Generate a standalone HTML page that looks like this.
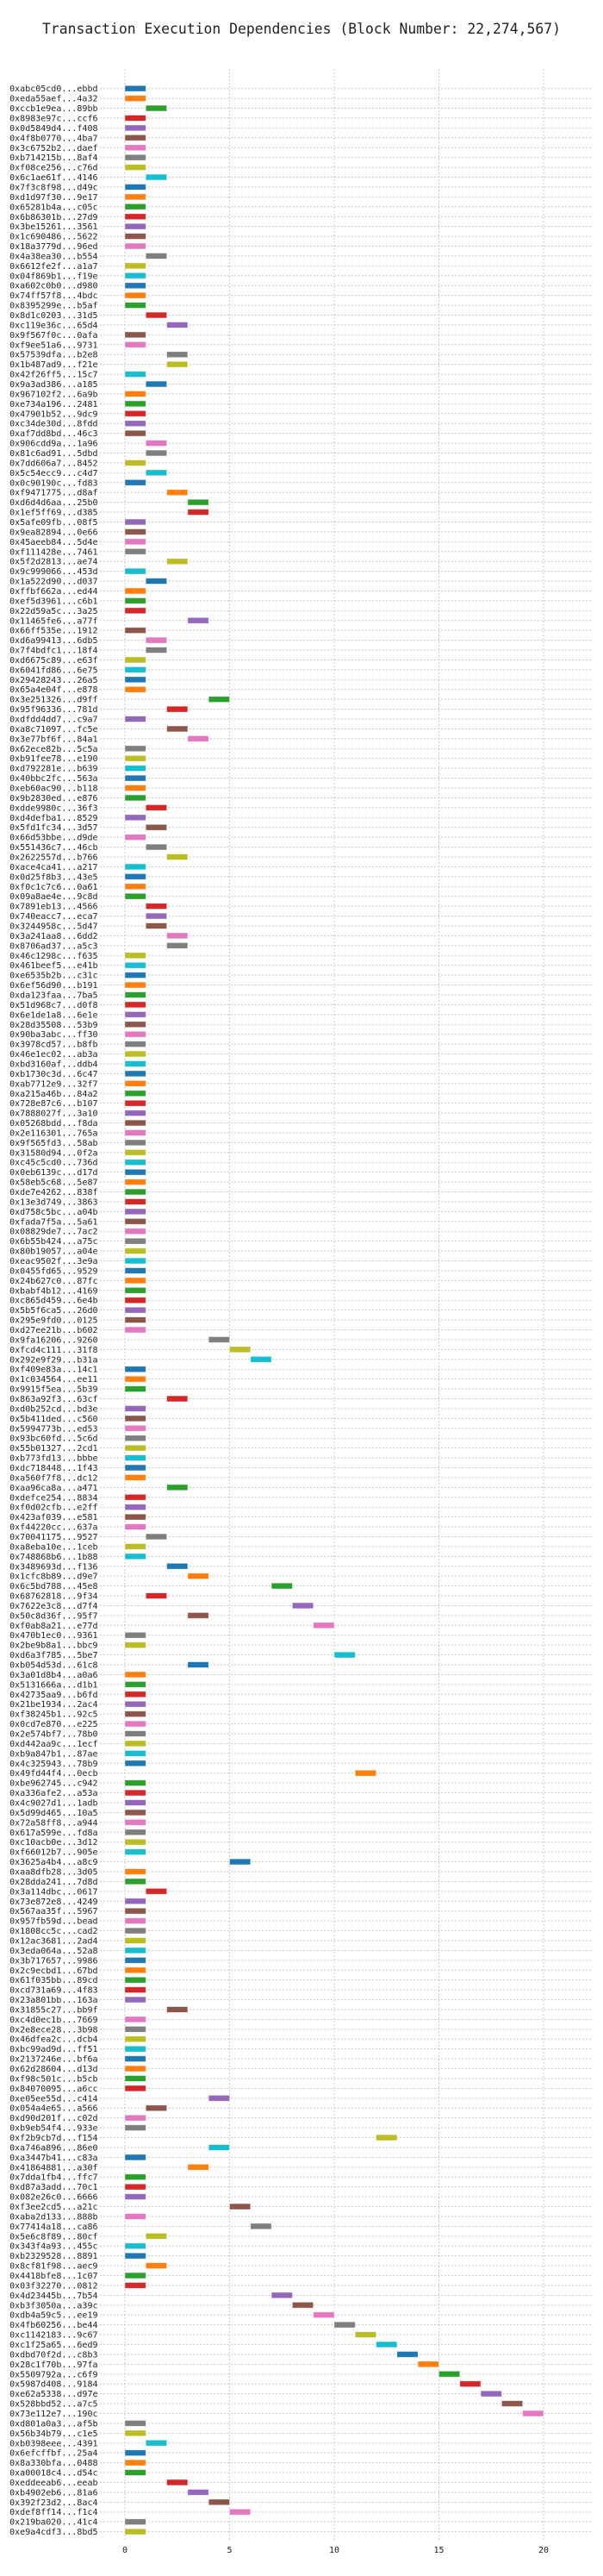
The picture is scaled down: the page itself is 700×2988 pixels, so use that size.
<!DOCTYPE html>
<html><head><meta charset="utf-8">
<style>
html,body{margin:0;padding:0;background:#fff;}
svg{display:block;}
text{font-family:"DejaVu Sans Mono","Liberation Mono",monospace;fill:#222;}
</style></head>
<body>
<svg id="chart" width="700" height="2988" viewBox="0 0 700 2988" xmlns="http://www.w3.org/2000/svg">
<text x="350" y="39" text-anchor="middle" font-size="16.4">Transaction Execution Dependencies (Block Number: 22,274,567)</text>
<g id="grid"></g><g id="bars"></g><g id="labels"></g><g id="xticks"></g>
</svg>
<script>
const txLabels = ["0xabc05cd0...ebbd","0xeda55aef...4a32","0xccb1e9ea...89bb","0x8983e97c...ccf6","0x0d5849d4...f408","0x4f8b0770...4ba7","0x3c6752b2...daef","0xb714215b...8af4","0xf08ce256...c76d","0x6c1ae61f...4146","0x7f3c8f98...d49c","0xd1d97f30...9e17","0x65281b4a...c05c","0x6b86301b...27d9","0x3be15261...3561","0x1c690486...5622","0x18a3779d...96ed","0x4a38ea30...b554","0x6612fe2f...a1a7","0x04f869b1...f19e","0xa602c0b0...d980","0x74ff57f8...4bdc","0x8395299e...b5af","0x8d1c0203...31d5","0xc119e36c...65d4","0x9f567f0c...0afa","0xf9ee51a6...9731","0x57539dfa...b2e8","0x1b487ad9...f21e","0x42f26ff5...15c7","0x9a3ad386...a185","0x967102f2...6a9b","0xe734a196...2481","0x47901b52...9dc9","0xc34de30d...8fdd","0xaf7dd8bd...46c3","0x906cdd9a...1a96","0x81c6ad91...5dbd","0x7dd606a7...8452","0x5c54ecc9...c4d7","0x0c90190c...fd83","0xf9471775...d8af","0xd6d4d6aa...25b0","0x1ef5ff69...d385","0x5afe09fb...08f5","0x9ea82894...0e66","0x45aeeb84...5d4e","0xf111428e...7461","0x5f2d2813...ae74","0x9c999066...453d","0x1a522d90...d037","0xffbf662a...ed44","0xef5d3961...c6b1","0x22d59a5c...3a25","0x11465fe6...a77f","0x66ff535e...1912","0xd6a99413...6db5","0x7f4bdfc1...18f4","0xd6675c89...e63f","0x6041fd86...6e75","0x29428243...26a5","0x65a4e04f...e878","0x3e251326...d9ff","0x95f96336...781d","0xdfdd4dd7...c9a7","0xa8c71097...fc5e","0x3e77bf6f...84a1","0x62ece82b...5c5a","0xb91fee78...e190","0xd792281e...b639","0x40bbc2fc...563a","0xeb60ac90...b118","0x9b2830ed...e876","0xdde9980c...36f3","0xd4defba1...8529","0x5fd1fc34...3d57","0x66d53bbe...d9de","0x551436c7...46cb","0x2622557d...b766","0xace4ca41...a217","0x0d25f8b3...43e5","0xf0c1c7c6...0a61","0x09a8ae4e...9c8d","0x7891eb13...4566","0x740eacc7...eca7","0x3244958c...5d47","0x3a241aa8...6dd2","0x8706ad37...a5c3","0x46c1298c...f635","0x461beef5...e41b","0xe6535b2b...c31c","0x6ef56d90...b191","0xda123faa...7ba5","0x51d968c7...d0f8","0x6e1de1a8...6e1e","0x28d35508...53b9","0x90ba3abc...ff30","0x3978cd57...b8fb","0x46e1ec02...ab3a","0xbd3160af...ddb4","0xb1730c3d...6c47","0xab7712e9...32f7","0xa215a46b...84a2","0x728e87c6...b107","0x7888027f...3a10","0x05268bdd...f8da","0x2e116301...765a","0x9f565fd3...58ab","0x31580d94...0f2a","0xc45c5cd0...736d","0x0eb6139c...d17d","0x58eb5c68...5e87","0xde7e4262...838f","0x13e3d749...3863","0xd758c5bc...a04b","0xfada7f5a...5a61","0x08829de7...7ac2","0x6b55b424...a75c","0x80b19057...a04e","0xeac9502f...3e9a","0x0455fd65...9529","0x24b627c0...87fc","0xbabf4b12...4169","0xc865d459...6e4b","0x5b5f6ca5...26d0","0x295e9fd0...0125","0xd27ee21b...b602","0x9fa16206...9260","0xfcd4c111...31f8","0x292e9f29...b31a","0xf409e83a...14c1","0x1c034564...ee11","0x9915f5ea...5b39","0x863a92f3...63cf","0xd0b252cd...bd3e","0x5b411ded...c560","0x5994773b...ed53","0x93bc60fd...5c6d","0x55b01327...2cd1","0xb773fd13...bbbe","0xdc718448...1f43","0xa560f7f8...dc12","0xaa96ca8a...a471","0xdefce254...8834","0xf0d02cfb...e2ff","0x423af039...e581","0xf44220cc...637a","0x70041175...9527","0xa8eba10e...1ceb","0x748868b6...1b88","0x3489693d...f136","0x1cfc8b89...d9e7","0x6c5bd788...45e8","0x68762818...9f34","0x7622e3c8...d7f4","0x50c8d36f...95f7","0xf0ab8a21...e77d","0x470b1ec0...9361","0x2be9b8a1...bbc9","0xd6a3f785...5be7","0xb054d53d...61c8","0x3a01d8b4...a0a6","0x5131666a...d1b1","0x42735aa9...b6fd","0x21be1934...2ac4","0xf38245b1...92c5","0x0cd7e870...e225","0x2e574bf7...78b0","0xd442aa9c...1ecf","0xb9a847b1...87ae","0x4c325943...78b9","0x49fd44f4...0ecb","0xbe962745...c942","0xa336afe2...a53a","0x4c9027d1...1adb","0x5d99d465...10a5","0x72a58ff8...a944","0x617a599e...fd8a","0xc10acb0e...3d12","0xf66012b7...905e","0x3625a4b4...a8c9","0xaa8dfb28...3d05","0x28dda241...7d8d","0x3a114dbc...0617","0x73e872e8...4249","0x567aa35f...5967","0x957fb59d...bead","0x1808cc5c...cad2","0x12ac3681...2ad4","0x3eda064a...52a8","0x3b717657...9986","0x2c9ecbd1...67bd","0x61f035bb...89cd","0xcd731a69...4f83","0x23a801bb...163a","0x31855c27...bb9f","0xc4d0ec1b...7669","0x2e8ece28...3b98","0x46dfea2c...dcb4","0xbc99ad9d...ff51","0x2137246e...bf6a","0x62d28604...d13d","0xf98c501c...b5cb","0x84070095...a6cc","0xe05ee55d...c414","0x054a4e65...a566","0xd90d201f...c02d","0xb9eb54f4...933e","0xf2b9cb7d...f154","0xa746a896...86e0","0xa3447b41...c83a","0x41864881...a30f","0x7dda1fb4...ffc7","0xd87a3add...70c1","0x082e26c0...6666","0xf3ee2cd5...a21c","0xaba2d133...888b","0x77414a18...ca86","0x5e6c8f89...80cf","0x343f4a93...455c","0xb2329528...8891","0x8cf81f98...aec9","0x4418bfe8...1c07","0x03f32270...0812","0x4d23445b...7b54","0xb3f3050a...a39c","0xdb4a59c5...ee19","0x4fb60256...be44","0xc1142183...9c67","0xc1f25a65...6ed9","0xdbd70f2d...c8b3","0x28c1f70b...97fa","0x5509792a...c6f9","0x5987d408...9184","0xe62a5338...d97e","0x528bbd52...a7c5","0x73e112e7...190c","0xd801a0a3...af5b","0x56b34b79...c1e5","0xb0398eee...4391","0x6efcffbf...25a4","0x8a330bfa...0488","0xa00018c4...d54c","0xeddeeab6...eeab","0xb4902eb6...81a6","0x392f23d2...8ac4","0xdef8ff14...f1c4","0x219ba020...41c4","0xe9a4cdf3...8bd5"];
const txStart = [0,0,1,0,0,0,0,0,0,1, 0,0,0,0,0,0,0,1,0,0, 0,0,0,1,2,0,0,2,2,0, 1,0,0,0,0,0,1,1,0,1, 0,2,3,3,0,0,0,0,2,0, 1,0,0,0,3,0,1,1,0,0, 0,0,4,2,0,2,3,0,0,0, 0,0,0,1,0,1,0,1,2,0, 0,0,0,1,1,1,2,2,0,0, 0,0,0,0,0,0,0,0,0,0, 0,0,0,0,0,0,0,0,0,0, 0,0,0,0,0,0,0,0,0,0, 0,0,0,0,0,0,0,4,5,6, 0,0,0,2,0,0,0,0,0,0, 0,0,2,0,0,0,0,1,0,0, 2,3,7,1,8,3,9,0,0,10, 3,0,0,0,0,0,0,0,0,0, 0,11,0,0,0,0,0,0,0,0, 5,0,0,1,0,0,0,0,0,0, 0,0,0,0,0,2,0,0,0,0, 0,0,0,0,4,1,0,0,12,4, 0,3,0,0,0,5,0,6,1,0, 0,1,0,0,7,8,9,10,11,12, 13,14,15,16,17,18,19,0,0,1, 0,0,0,2,3,4,5,0,0];
const txDuration = 1;
const xTicks = [0,5,10,15,20];
const colors = ["#1f77b4","#ff7f0e","#2ca02c","#d62728","#9467bd","#8c564b","#e377c2","#7f7f7f","#bcbd22","#17becf"];

const NS="http://www.w3.org/2000/svg";
const x0=145, xScale=24.3, y0=102.7, rowH=11.427;
const plotL=116, plotR=688, plotT=92, plotB=2948;
const xPos=v=>x0+v*xScale;
const yPos=i=>y0+i*rowH;
function mk(tag,attrs){const e=document.createElementNS(NS,tag);for(const k in attrs)e.setAttribute(k,attrs[k]);return e;}
const grid=document.getElementById('grid'),bars=document.getElementById('bars'),labels=document.getElementById('labels'),xt=document.getElementById('xticks');

xTicks.forEach(t=>{
  const l=mk('line',{x1:xPos(t),x2:xPos(t),y1:plotT-12,y2:plotB,stroke:'#c8c8c8','stroke-width':1,'stroke-dasharray':'2,2'});
  
  
  grid.appendChild(l);
  const tx=mk('text',{x:xPos(t),y:2961,'text-anchor':'middle','font-size':10});
  tx.textContent=t;
  
  
  xt.appendChild(tx);
});

txLabels.forEach((lab,i)=>{
  const y=yPos(i);
  const g=mk('line',{x1:plotL,x2:plotR,y1:y,y2:y,stroke:'#c8c8c8','stroke-width':1,'stroke-dasharray':'2,2'});
  
  
  grid.appendChild(g);
  const t=mk('text',{x:113.5,y:y+3.5,'text-anchor':'end','font-size':10});
  t.textContent=lab;
  
  
  labels.appendChild(t);
  const r=mk('rect',{x:xPos(txStart[i]),y:y-3.4,width:txDuration*xScale,height:6.8,fill:colors[i%10],stroke:'#fff','stroke-opacity':0.5,'stroke-width':0.8});
  
  
  bars.appendChild(r);
});
</script>
</body></html>
